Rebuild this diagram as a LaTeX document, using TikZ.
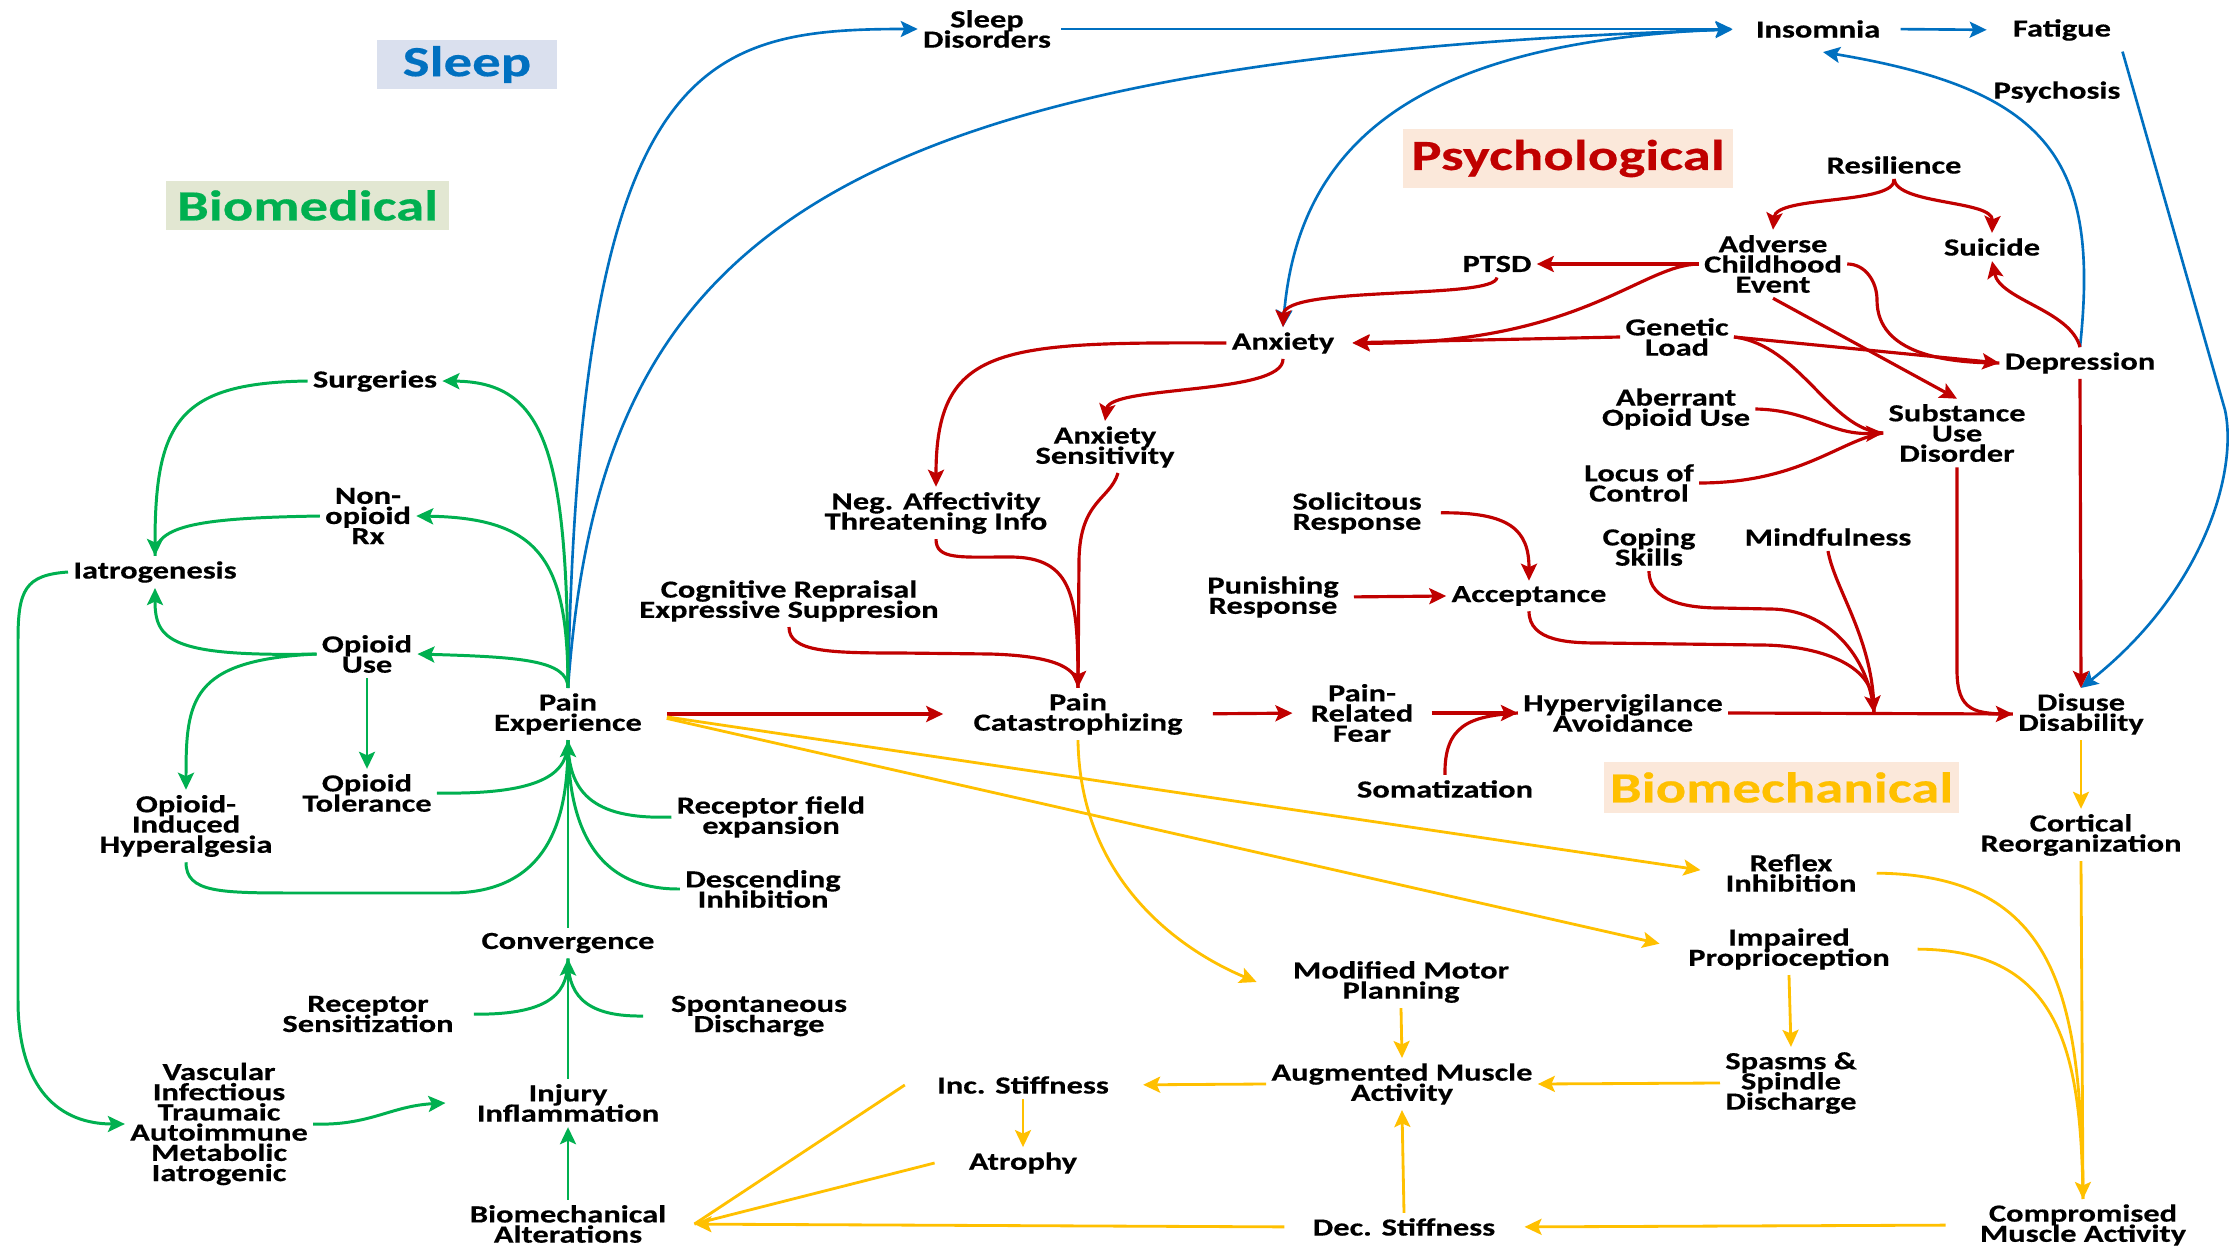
\documentclass[tikz,border=0pt]{standalone}
\usepackage{fontspec}
\setmainfont{Carlito}[FakeStretch=1.32,FakeBold=0.4]
\usetikzlibrary{arrows.meta}
\definecolor{cblue}{HTML}{0070C0}
\definecolor{cred}{HTML}{C00000}
\definecolor{cgreen}{HTML}{00B050}
\definecolor{cyel}{HTML}{FFC000}
\definecolor{fsleep}{HTML}{DAE0EE}
\definecolor{fbio}{HTML}{E2E7D2}
\definecolor{fpsy}{HTML}{FBE8DA}
\newcommand\nodetightfont{\bfseries\fontsize{14}{11.5}\selectfont\lineskiplimit=-30pt\relax\lineskip=0pt\relax}
\tikzset{
  txt/.style={font=\nodetightfont, align=center, inner sep=0.1cm},
  ttl/.style={font=\bfseries\fontsize{24.5}{26}\selectfont, inner sep=0},
  arr/.style={-{Stealth[length=0.34cm,width=0.32cm,inset=0.07cm]}},
  bl/.style={cblue, line width=1.5pt},
  rd/.style={cred, line width=1.8pt},
  gr/.style={cgreen, line width=1.7pt},
  yl/.style={cyel, line width=1.6pt}
}
\begin{document}
\begin{tikzpicture}[x=0.02cm,y=-0.02cm]
\fill[white] (0,0) rectangle (2236,1247);
\useasboundingbox (0,0) rectangle (2236,1247);

% titles
\node[ttl, fill=fsleep, text=cblue, minimum width=3.6cm, minimum height=0.98cm] (tsleep) at (467,64.5) {Sleep};
\node[ttl, fill=fbio, text=cgreen, minimum width=5.66cm, minimum height=0.98cm] (tbio) at (307.5,205.5) {Biomedical};
\node[ttl, fill=fpsy, text=cred, minimum width=6.6cm, minimum height=1.18cm] (tpsy) at (1568,158.5) {Psychological};
\node[ttl, fill=fpsy, text=cyel, minimum width=7.1cm, minimum height=1.02cm] (tbmc) at (1781.5,787.5) {Biomechanical};

% nodes
\node[txt] (sd) at (987,29) {Sleep\\Disorders};
\node[txt] (ins) at (1818,29) {Insomnia};
\node[txt] (fat) at (2062,30) {Fatigue};
\node[txt] (psy) at (2057,92) {Psychosis};
\node[txt] (res) at (1894,165) {Resilience};
\node[txt] (ace) at (1773,264) {Adverse\\Childhood\\Event};
\node[txt] (sui) at (1992,247) {Suicide};
\node[txt] (dep) at (2080,363) {Depression};
\node[txt] (sud) at (1957,433) {Substance\\Use\\Disorder};
\node[txt] (ptsd) at (1497,264) {PTSD};
\node[txt] (anx) at (1283,343) {Anxiety};
\node[txt] (gen) at (1677,337) {Genetic\\Load};
\node[txt] (abe) at (1676,409) {Aberrant\\Opioid Use};
\node[txt] (loc) at (1639,483) {Locus of\\Control};
\node[txt] (sol) at (1357,513) {Solicitous\\Response};
\node[txt] (pun) at (1273,597) {Punishing\\Response};
\node[txt] (acc) at (1529,596) {Acceptance};
\node[txt] (cop) at (1649,547) {Coping\\Skills};
\node[txt] (mind) at (1828,537) {Mindfulness};
\node[txt] (axs) at (1105,447) {Anxiety\\Sensitivity};
\node[txt] (neg) at (936,513) {Neg. Affectivity\\Threatening Info};
\node[txt] (cog) at (789,601) {Cognitive Repraisal\\Expressive Suppresion};
\node[txt] (pe) at (568,714) {Pain\\Experience};
\node[txt] (pc) at (1078,714) {Pain\\Catastrophizing};
\node[txt] (prf) at (1362,713) {Pain-\\Related\\Fear};
\node[txt] (hyp) at (1623,713) {Hypervigilance\\Avoidance};
\node[txt] (dis) at (2081,714) {Disuse\\Disability};
\node[txt] (som) at (1445,789) {Somatization};
\node[txt] (cort) at (2081,835) {Cortical\\Reorganization};
\node[txt] (rfx) at (1791,873) {Reflex\\Inhibition};
\node[txt] (imp) at (1789,949) {Impaired\\Proprioception};
\node[txt] (mmp) at (1401,982) {Modified Motor\\Planning};
\node[txt] (aug) at (1402,1084) {Augmented Muscle\\Activity};
\node[txt] (spa) at (1791,1083) {Spasms \&\\Spindle\\Discharge};
\node[txt] (dec) at (1404,1227) {Dec. Stiffness};
\node[txt] (com) at (2083,1225) {Compromised\\Muscle Activity};
\node[txt] (inc) at (1023,1085) {Inc. Stiffness};
\node[txt] (atr) at (1023,1163) {Atrophy};
\node[txt] (bma) at (568,1224) {Biomechanical\\Alterations};
\node[txt] (inj) at (568,1103) {Injury\\Inflammation};
\node[txt] (vas) at (219,1124) {Vascular\\Infectious\\Traumaic\\Autoimmune\\Metabolic\\Iatrogenic};
\node[txt] (rs) at (368,1014) {Receptor\\Sensitization};
\node[txt] (sdis) at (759,1016) {Spontaneous\\Discharge};
\node[txt] (conv) at (568,943) {Convergence};
\node[txt] (di) at (763,889) {Descending\\Inhibition};
\node[txt] (rfe) at (771,817) {Receptor field\\expansion};
\node[txt] (ot) at (367,793) {Opioid\\Tolerance};
\node[txt] (oih) at (186,826) {Opioid-\\Induced\\Hyperalgesia};
\node[txt] (ou) at (367,654) {Opioid\\Use};
\node[txt] (iat) at (155,572) {Iatrogenesis};
\node[txt] (nor) at (368,516) {Non-\\opioid\\Rx};
\node[txt] (sur) at (375,381) {Surgeries};

% blue
\draw[bl,arr] (pe.north) .. controls (580,60) and (700,29) .. (sd.west);
\draw[bl,arr,shorten <=0.1cm,shorten >=0.36cm] (sd.east) -- (ins.west);
\draw[bl,arr,shorten >=0.36cm] (pe.north) .. controls (600,250) and (800,60) .. (ins.west);
\draw[bl,arr] ([xshift=-0.4cm]ins.west) .. controls (1450,40) and (1300,120) .. (anx.north);
\draw[bl,arr] (dep.north) .. controls (2100,160) and (2050,90) .. ([xshift=0.1cm,yshift=-0.18cm]ins.south);
\draw[bl,arr,shorten <=0.3cm,shorten >=0.42cm] (ins.east) -- (fat.west);
\draw[bl,arr,shorten <=0.45cm] (fat.east) -- (2225,410) .. controls (2238,470) and (2205,590) .. (dis.north);

% red
\draw[rd,arr] (res.south) .. controls (1897,205) and (1776,195) .. (ace.north);
\draw[rd,arr] (res.south) .. controls (1897,205) and (1993,200) .. (sui.north);
\draw[rd,arr] (ace.west) -- (ptsd.east);
\draw[rd,arr,shorten >=0.26cm] (ace.west) .. controls (1640,265) and (1580,345) .. (anx.east);
\draw[rd,arr] (ptsd.south) .. controls (1495,300) and (1284,285) .. (anx.north);
\draw[rd,arr,shorten >=0.26cm] (gen.west) -- (anx.east);
\draw[rd,arr] (gen.east) -- (dep.west);
\draw[rd] (ace.east) to[out=0,in=90] (1877,300) to[out=-90,in=180] (dep.west);
\draw[rd,arr] (ace.south) -- (sud.north);
\draw[rd] (gen.east) .. controls (1800,345) and (1830,430) .. (sud.west);
\draw[rd,arr] (abe.east) .. controls (1810,410) and (1830,435) .. (sud.west);
\draw[rd] (loc.east) .. controls (1800,483) and (1840,440) .. (sud.west);
\draw[rd,arr] (dep.north) .. controls (2070,310) and (2000,300) .. (sui.south);
\draw[rd,arr] (dep.south) -- (dis.north);
\draw[rd] (sud.south) -- (1957,670) .. controls (1957,712) and (1975,714) .. (dis.west);
\draw[rd,arr] (hyp.east) -- (dis.west);
\coordinate (jn) at (1874,713);
\draw[rd,arr] (acc.south) to[out=-90,in=180] (1600,643) -- (1760,645) to[out=0,in=95] (jn);
\draw[rd] (cop.south) to[out=-90,in=180] (1720,608) -- (1770,609) to[out=0,in=95] (jn);
\draw[rd] (mind.south) .. controls (1835,590) and (1874,640) .. (jn);
\draw[rd,arr,shorten <=0.28cm] (sol.east) .. controls (1510,512) and (1529,530) .. (acc.north);
\draw[rd,arr,shorten <=0.2cm] (pun.east) -- (acc.west);
\draw[rd,arr] (anx.west) .. controls (1000,342) and (936,345) .. (neg.north);
\draw[rd,arr] (anx.south) .. controls (1284,395) and (1110,385) .. (axs.north);
\draw[rd,arr] ([xshift=0.26cm]axs.south) .. controls (1110,500) and (1080,500) .. (1079,560) -- (pc.north);
\draw[rd] (neg.south) .. controls (936,560) and (960,557) .. (1010,557) .. controls (1075,557) and (1078,600) .. (pc.north);
\draw[rd] (cog.south) .. controls (789,652) and (830,653) .. (900,653) -- (990,654) .. controls (1060,656) and (1078,670) .. (pc.north);
\draw[rd,arr,shorten <=0.4cm,shorten >=0.5cm] (pe.east) -- (pc.west);
\draw[rd,arr,shorten <=0.5cm,shorten >=0.26cm] (pc.east) -- (prf.west);
\draw[rd,arr,shorten <=0.26cm] (prf.east) -- (hyp.west);
\draw[rd] (som.north) .. controls (1444,725) and (1470,716) .. (hyp.west);

% green
\draw[gr,arr] (pe.north) .. controls (568,450) and (545,382) .. (sur.east);
\draw[gr,arr] (pe.north) .. controls (568,560) and (540,518) .. (nor.east);
\draw[gr,arr] (pe.north) .. controls (568,660) and (520,657) .. (ou.east);
\draw[gr,arr] (sur.west) .. controls (180,383) and (155,420) .. (iat.north);
\draw[gr] (nor.west) .. controls (200,518) and (155,525) .. (iat.north);
\draw[gr,arr] (ou.west) .. controls (170,657) and (155,640) .. (iat.south);
\draw[gr,arr] (ou.west) .. controls (190,660) and (186,700) .. (oih.north);
\draw[gr,arr] (ou.south) -- (ot.north);
\draw[gr] (ot.east) .. controls (550,795) and (568,770) .. (pe.south);
\draw[gr] (oih.south) .. controls (186,893) and (220,893) .. (300,893) -- (450,893) .. controls (560,893) and (568,800) .. (pe.south);
\draw[gr] (rfe.west) .. controls (590,820) and (568,790) .. (pe.south);
\draw[gr] (di.west) .. controls (580,890) and (568,800) .. (pe.south);
\draw[gr,arr] (conv.north) -- (pe.south);
\draw[gr,shorten <=0.3cm] (rs.east) .. controls (555,1015) and (568,990) .. (conv.south);
\draw[gr] ([xshift=-0.45cm]sdis.west) .. controls (580,1017) and (568,990) .. (conv.south);
\draw[gr,arr] (inj.north) -- (conv.south);
\draw[gr,arr] (bma.north) -- (inj.south);
\draw[gr,arr] (vas.east) .. controls (370,1126) and (390,1106) .. ([xshift=-0.52cm]inj.west);
\draw[gr,arr] (iat.west) .. controls (25,575) and (18,590) .. (18,640) -- (18,1000) .. controls (18,1090) and (60,1124) .. (vas.west);

% yellow
\draw[yl,arr,shorten <=0.4cm,shorten >=0.4cm] (pe.east) -- (rfx.west);
\draw[yl,arr,shorten <=0.4cm,shorten >=0.48cm] (pe.east) -- (imp.west);
\draw[yl,arr] (pc.south) .. controls (1080,880) and (1180,950) .. ([xshift=-0.62cm]mmp.west);
\draw[yl,arr] (dis.south) -- (cort.north);
\draw[yl,arr] (cort.south) -- (com.north);
\draw[yl,shorten <=0.3cm] (rfx.east) .. controls (2060,875) and (2081,1000) .. (com.north);
\draw[yl,shorten <=0.45cm] (imp.east) .. controls (2060,950) and (2081,1050) .. (com.north);
\draw[yl,arr] (imp.south) -- (spa.north);
\draw[yl,arr] (mmp.south) -- (aug.north);
\draw[yl,arr] (spa.west) -- (aug.east);
\draw[yl,arr,shorten >=0.58cm] (aug.west) -- (inc.east);
\draw[yl,arr] (inc.south) -- (atr.north);
\draw[yl,arr] (dec.north) -- (aug.south);
\draw[yl,arr,shorten <=0.58cm,shorten >=0.48cm] (com.west) -- (dec.east);
\draw[yl,arr,shorten <=0.46cm,shorten >=0.46cm] (dec.west) -- (bma.east);
\draw[yl] ([xshift=-0.54cm]inc.west) -- ([xshift=0.46cm]bma.east);
\draw[yl] ([xshift=-0.58cm]atr.west) -- ([xshift=0.46cm]bma.east);
\end{tikzpicture}
\end{document}
